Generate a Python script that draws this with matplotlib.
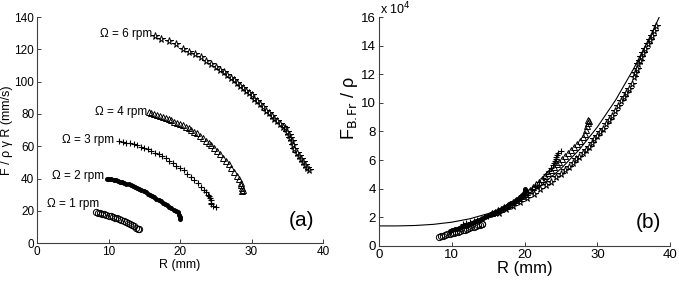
import matplotlib
matplotlib.use("Agg")
import matplotlib.pyplot as plt

plt.rcParams["font.family"] = ["Liberation Sans", "DejaVu Sans"]

# ---- data ----
# radius (mm) for each rotation rate
r_1rpm = [8.2, 8.5, 8.8, 9.1, 9.4, 9.7, 10.0, 10.3, 10.6, 10.9, 11.2, 11.5, 11.8,
          12.1, 12.4, 12.7, 13.0, 13.3, 13.6, 13.9, 14.1, 14.2]
r_2rpm = [9.8, 10.1, 10.4, 10.7, 11.0, 11.3, 11.6, 11.9, 12.2, 12.5, 12.8, 13.1,
          13.4, 13.7, 14.0, 14.3, 14.6, 14.9, 15.2, 15.5, 15.8, 16.1, 16.4, 16.7,
          17.0, 17.3, 17.6, 17.9, 18.2, 18.5, 18.8, 19.1, 19.4, 19.7, 19.9, 20.0, 20.0]
r_3rpm = [11.5, 12.0, 12.5, 13.0, 13.5, 14.0, 14.5, 15.0, 15.5, 16.0, 16.5, 17.0,
          17.5, 18.0, 18.5, 19.0, 19.5, 20.0, 20.5, 21.0, 21.5, 22.0, 22.5, 23.0,
          23.3, 23.6, 23.9, 24.1, 24.2, 24.3, 24.3, 24.4, 24.6, 25.0]
r_4rpm = [15.6, 16.0, 16.4, 16.8, 17.2, 17.6, 18.0, 18.4, 18.8, 19.2, 19.6, 20.0,
          20.4, 20.8, 21.2, 21.6, 22.0, 22.4, 22.8, 23.2, 23.6, 24.0, 24.4, 24.8,
          25.2, 25.6, 26.0, 26.4, 26.8, 27.2, 27.6, 28.0, 28.3, 28.5, 28.6, 28.7,
          28.7, 28.8]
r_6rpm = [16.5, 17.4, 18.4, 19.4, 20.4, 21.3, 22.1, 22.9, 23.6, 24.3, 25.0, 25.6,
          26.1, 26.6, 27.1, 27.5, 28.0, 28.4, 28.8, 29.2, 29.6, 30.0, 30.4, 30.8,
          31.2, 31.6, 32.0, 32.4, 32.8, 33.2, 33.6, 34.0, 34.4, 34.7, 35.0, 35.2,
          35.4, 35.6, 35.8, 36.0, 36.3, 36.6, 36.9, 37.2, 37.5, 37.8, 38.1]

# panel (a): F / rho gamma R (mm/s)
a_1rpm = [19.0, 18.7, 18.4, 18.1, 17.8, 17.4, 17.0, 16.6, 16.2, 15.8, 15.3, 14.8,
          14.3, 13.8, 13.2, 12.6, 12.0, 11.3, 10.5, 9.6, 9.0, 8.5]
a_2rpm = [40.0, 39.8, 39.5, 39.2, 38.9, 38.5, 38.1, 37.7, 37.3, 36.8, 36.3, 35.8,
          35.3, 34.7, 34.1, 33.5, 32.8, 32.1, 31.4, 30.7, 30.0, 29.2, 28.4, 27.6,
          26.8, 26.0, 25.1, 24.2, 23.4, 22.5, 21.6, 20.8, 20.0, 19.2, 17.5, 16.0, 15.2]
a_3rpm = [63.0, 62.7, 62.3, 61.8, 61.2, 60.5, 59.8, 59.0, 58.0, 57.0, 56.0, 55.0,
          53.8, 52.5, 51.0, 49.5, 48.0, 46.5, 45.0, 43.0, 41.0, 39.0, 37.0, 34.5,
          33.0, 31.5, 30.0, 29.0, 28.0, 26.5, 25.0, 24.0, 23.0, 22.5]
a_4rpm = [81.0, 80.5, 80.0, 79.5, 79.0, 78.3, 77.5, 76.8, 76.0, 75.3, 74.5, 73.8,
          73.0, 72.0, 71.0, 70.0, 69.0, 68.0, 66.5, 65.0, 63.5, 62.0, 60.5, 59.0,
          57.0, 55.0, 53.0, 51.0, 49.0, 46.5, 44.0, 41.5, 39.5, 37.5, 36.0, 34.0,
          32.5, 33.0]
a_6rpm = [128.0, 126.5, 125.0, 123.0, 120.5, 118.5, 117.0, 115.0, 113.0, 111.0,
          109.0, 107.5, 106.0, 104.0, 102.0, 101.0, 99.0, 97.5, 96.0, 94.5, 93.0,
          91.5, 89.5, 88.0, 86.0, 84.0, 82.0, 80.5, 79.0, 77.0, 75.5, 74.0, 72.0,
          71.0, 69.0, 67.0, 65.0, 63.0, 61.0, 58.5, 56.0, 54.0, 52.0, 50.0, 48.5,
          46.5, 45.0]

# panel (b): F_B.Fr / rho, in units of 1e4
b_1rpm = [0.65, 0.68, 0.72, 0.76, 0.80, 0.84, 0.88, 0.92, 0.96, 1.00, 1.05, 1.10,
          1.14, 1.19, 1.24, 1.29, 1.33, 1.38, 1.43, 1.48, 1.52, 1.55]
b_2rpm = [1.05, 1.10, 1.15, 1.20, 1.25, 1.30, 1.36, 1.42, 1.48, 1.54, 1.60, 1.66,
          1.72, 1.79, 1.86, 1.93, 2.00, 2.07, 2.14, 2.21, 2.29, 2.37, 2.45, 2.53,
          2.62, 2.71, 2.80, 2.90, 3.00, 3.10, 3.20, 3.31, 3.42, 3.55, 3.70, 3.85, 3.95]
b_3rpm = [1.50, 1.57, 1.64, 1.72, 1.80, 1.90, 2.00, 2.10, 2.20, 2.32, 2.44, 2.57,
          2.70, 2.85, 3.00, 3.18, 3.35, 3.55, 3.75, 3.95, 4.20, 4.45, 4.75, 5.05,
          5.25, 5.45, 5.65, 5.80, 5.95, 6.10, 6.25, 6.35, 6.50, 6.65]
b_4rpm = [2.30, 2.40, 2.50, 2.60, 2.70, 2.80, 2.92, 3.05, 3.18, 3.32, 3.46, 3.60,
          3.75, 3.90, 4.10, 4.30, 4.50, 4.70, 4.90, 5.10, 5.30, 5.50, 5.70, 5.90,
          6.10, 6.30, 6.50, 6.70, 6.90, 7.10, 7.35, 7.60, 7.85, 8.10, 8.35, 8.60,
          8.80, 8.70]
b_6rpm = [2.30, 2.55, 2.80, 3.05, 3.35, 3.65, 3.95, 4.25, 4.50, 4.80, 5.05, 5.30,
          5.55, 5.80, 6.05, 6.25, 6.50, 6.70, 6.95, 7.20, 7.45, 7.70, 7.95, 8.20,
          8.50, 8.80, 9.10, 9.40, 9.75, 10.10, 10.40, 10.70, 11.00, 11.30, 11.80,
          12.10, 12.40, 12.70, 12.95, 13.20, 13.50, 13.80, 14.10, 14.40, 14.70,
          15.00, 15.40]

# fitted curve in panel (b)
fit_r = [0, 2.5, 5, 7.5, 10, 12.5, 15, 17.5, 20, 22.5, 25, 27.5, 30, 32.5, 35,
         37.5, 38.5]
fit_f = [1.40, 1.40, 1.43, 1.51, 1.66, 1.90, 2.26, 2.77, 3.45, 4.32, 5.40, 6.72,
         8.31, 10.19, 12.40, 14.90, 16.00]

labels = ["Ω = 1 rpm", "Ω = 2 rpm", "Ω = 3 rpm", "Ω = 4 rpm", "Ω = 6 rpm"]
label_pos = [(8.7, 24.5), (9.4, 41.5), (10.8, 64), (15.4, 81), (16.1, 129.5)]

radii = [r_1rpm, r_2rpm, r_3rpm, r_4rpm, r_6rpm]
vals_a = [a_1rpm, a_2rpm, a_3rpm, a_4rpm, a_6rpm]
vals_b = [b_1rpm, b_2rpm, b_3rpm, b_4rpm, b_6rpm]
markers = [("o", 4.5), (".", 5.5), ("+", 5.0), ("^", 4.5), ("*", 5.5)]

axis_col = "#404040"


def style_axes(ax):
    for side in ["top", "right"]:
        ax.spines[side].set_visible(False)
    for side in ["left", "bottom"]:
        ax.spines[side].set_color(axis_col)
        ax.spines[side].set_linewidth(0.8)
    ax.tick_params(direction="in", length=3, width=0.7, color=axis_col,
                   labelsize=8.5, pad=2)


def draw_series(ax, xs, ys, mk, ms):
    if mk in ("+", "."):
        ax.plot(xs, ys, linestyle="none", marker=mk, ms=ms, color="k", mew=0.8)
    else:
        ax.plot(xs, ys, linestyle="none", marker=mk, ms=ms, mfc="none",
                mec="k", mew=0.7)


fig = plt.figure(figsize=(6.79, 2.84), dpi=100)

# ---- panel (a) ----
ax1 = fig.add_axes([0.0545, 0.144, 0.4212, 0.796])
for xs, ys, (mk, ms) in zip(radii, vals_a, markers):
    draw_series(ax1, xs, ys, mk, ms)
for lab, (lx, ly) in zip(labels, label_pos):
    ax1.text(lx, ly, lab, ha="right", va="center", fontsize=8.5)
ax1.set_xlim(0, 40)
ax1.set_ylim(0, 140)
ax1.set_xticks([0, 10, 20, 30, 40])
ax1.set_yticks(range(0, 141, 20))
ax1.set_xlabel("R (mm)", fontsize=9, labelpad=1)
ax1.set_ylabel("F / ρ γ R (mm/s)", fontsize=9, labelpad=1)
ax1.text(0.97, 0.06, "(a)", transform=ax1.transAxes, ha="right", va="bottom",
         fontsize=15)
style_axes(ax1)

# ---- panel (b) ----
ax2 = fig.add_axes([0.558, 0.134, 0.429, 0.806])
ax2.plot(fit_r, fit_f, color="k", lw=0.8)
for xs, ys, (mk, ms) in zip(radii, vals_b, markers):
    draw_series(ax2, xs, ys, mk, ms)
ax2.set_xlim(0, 40)
ax2.set_ylim(0, 16)
ax2.set_xticks([0, 10, 20, 30, 40])
ax2.set_yticks(range(0, 17, 2))
ax2.set_xlabel("R (mm)", fontsize=12, labelpad=0)
ax2.set_ylabel(r"F$_{\mathrm{B.\!Fr}}$ / ρ", fontsize=13)
ax2.yaxis.set_label_coords(-0.065, 0.6)
ax2.text(0.005, 1.0, r"x 10$^{4}$", transform=ax2.transAxes, ha="left",
         va="bottom", fontsize=9)
ax2.text(0.97, 0.06, "(b)", transform=ax2.transAxes, ha="right", va="bottom",
         fontsize=15)
style_axes(ax2)
ax2.tick_params(labelsize=9.5)

fig.savefig("out.png", dpi=100)
